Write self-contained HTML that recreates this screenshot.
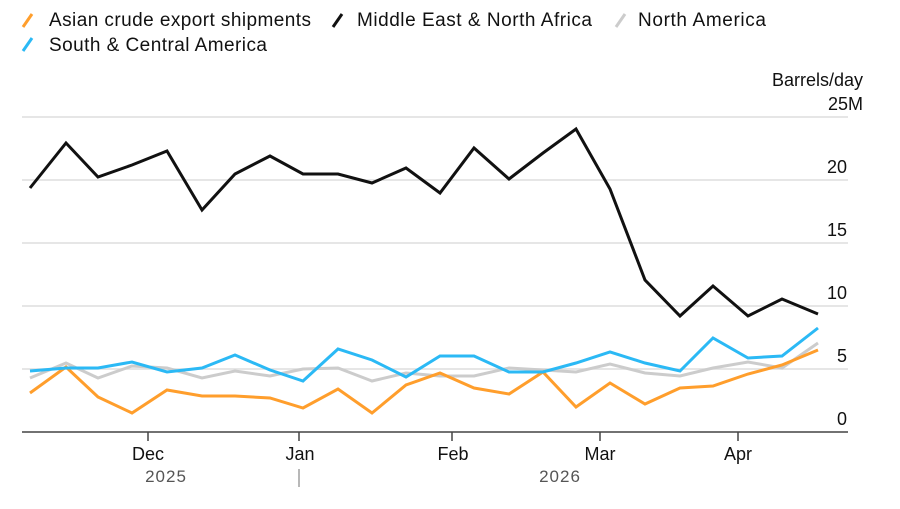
<!DOCTYPE html>
<html><head><meta charset="utf-8"><style>
body{margin:0;background:#fff;width:900px;height:504px;overflow:hidden;font-family:"Liberation Sans",sans-serif}
</style></head><body>
<svg width="900" height="504" viewBox="0 0 900 504" xmlns="http://www.w3.org/2000/svg" font-family="Liberation Sans, sans-serif">
<g font-size="19" fill="#111">
<line x1="23" y1="27" x2="32" y2="14" stroke="#ff9e2c" stroke-width="3"/><text x="49" y="26" textLength="262">Asian crude export shipments</text>
<line x1="333" y1="27" x2="342" y2="14" stroke="#111" stroke-width="3"/><text x="357" y="26" textLength="235">Middle East &amp; North Africa</text>
<line x1="616" y1="27" x2="625" y2="14" stroke="#ccc" stroke-width="3"/><text x="638" y="26" textLength="128">North America</text>
<line x1="23" y1="51" x2="32" y2="38" stroke="#2bb9f5" stroke-width="3"/><text x="49" y="51" textLength="218">South &amp; Central America</text>
</g>
<g fill="#111" font-size="18" text-anchor="end">
<text x="863" y="86">Barrels/day</text>
<text x="863" y="110">25M</text>
<text x="847" y="173">20</text>
<text x="847" y="236">15</text>
<text x="847" y="299">10</text>
<text x="847" y="362">5</text>
<text x="847" y="425">0</text>
</g>
<g stroke="#ddd" stroke-width="1.5">
<line x1="22" y1="117" x2="848" y2="117"/><line x1="22" y1="180" x2="848" y2="180"/>
<line x1="22" y1="243" x2="848" y2="243"/><line x1="22" y1="306" x2="848" y2="306"/>
<line x1="22" y1="369" x2="848" y2="369"/>
</g>
<g fill="none" stroke-width="3" stroke-linejoin="miter">
<polyline stroke="#ccc" points="30,378 66,363 98,378 132,366 167,368 202,378 235,371 270,376 303,369 338,368 372,381 406,373 440,376 474,376 509,368 543,370 576,372 610,364 645,373 680,376 713,368 748,362 782,368 818,343"/>
<polyline stroke="#ff9e2c" points="30,393 66,367 98,397 132,413 167,390 202,396 235,396 270,398 303,408 338,389 372,413 406,385 440,373 474,388 509,394 543,372 576,407 610,383 645,404 680,388 713,386 748,374 782,365 818,350"/>
<polyline stroke="#2bb9f5" points="30,371 66,368 98,368 132,362 167,372 202,368 235,355 270,370 303,381 338,349 372,360 406,377 440,356 474,356 509,372 543,372 576,363 610,352 645,363 680,371 713,338 748,358 782,356 818,328"/>
<polyline stroke="#111" points="30,188 66,143 98,177 132,165 167,151 202,210 235,174 270,156 303,174 338,174 372,183 406,168 440,193 474,148 509,179 543,153 576,129 610,189 645,280 680,316 713,286 748,316 782,299 818,314"/>
</g>
<line x1="22" y1="432" x2="848" y2="432" stroke="#444" stroke-width="1.5"/>
<g stroke="#444" stroke-width="1.5">
<line x1="148" y1="432" x2="148" y2="441"/><line x1="299" y1="432" x2="299" y2="441"/>
<line x1="452" y1="432" x2="452" y2="441"/><line x1="600" y1="432" x2="600" y2="441"/>
<line x1="738" y1="432" x2="738" y2="441"/>
</g>
<line x1="299" y1="469" x2="299" y2="487" stroke="#888" stroke-width="1.2"/>
<g fill="#111" font-size="18" text-anchor="middle">
<text x="148" y="460">Dec</text><text x="300" y="460">Jan</text><text x="453" y="460">Feb</text>
<text x="600" y="460">Mar</text><text x="738" y="460">Apr</text>
</g>
<g fill="#555" font-size="17" text-anchor="middle" letter-spacing="1">
<text x="166" y="482">2025</text><text x="560" y="482">2026</text>
</g>
</svg>
</body></html>
